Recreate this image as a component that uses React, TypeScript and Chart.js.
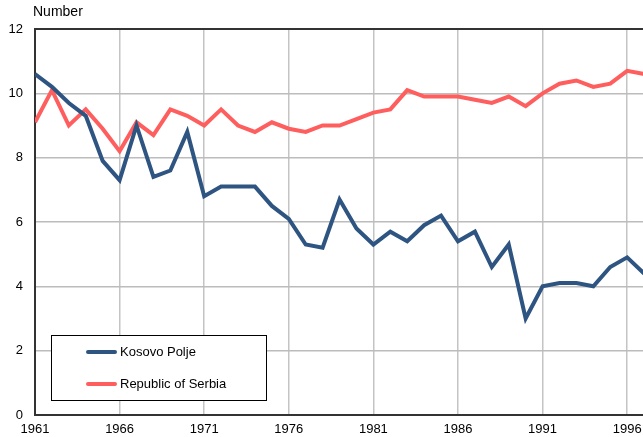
import React, { useEffect, useRef } from "react";
import { Chart, registerables } from "chart.js";

Chart.register(...registerables);

const years = [
  1961, 1962, 1963, 1964, 1965, 1966, 1967, 1968, 1969, 1970,
  1971, 1972, 1973, 1974, 1975, 1976, 1977, 1978, 1979, 1980,
  1981, 1982, 1983, 1984, 1985, 1986, 1987, 1988, 1989, 1990,
  1991, 1992, 1993, 1994, 1995, 1996, 1997,
];
const kosovoPolje = [
  10.6, 10.2, 9.7, 9.3, 7.9, 7.3, 9.0, 7.4, 7.6, 8.8,
  6.8, 7.1, 7.1, 7.1, 6.5, 6.1, 5.3, 5.2, 6.7, 5.8,
  5.3, 5.7, 5.4, 5.9, 6.2, 5.4, 5.7, 4.6, 5.3, 3.0,
  4.0, 4.1, 4.1, 4.0, 4.6, 4.9, 4.4,
];
const serbia = [
  9.1, 10.1, 9.0, 9.5, 8.9, 8.2, 9.1, 8.7, 9.5, 9.3,
  9.0, 9.5, 9.0, 8.8, 9.1, 8.9, 8.8, 9.0, 9.0, 9.2,
  9.4, 9.5, 10.1, 9.9, 9.9, 9.9, 9.8, 9.7, 9.9, 9.6,
  10.0, 10.3, 10.4, 10.2, 10.3, 10.7, 10.6,
];
const xTickYears = [1961, 1966, 1971, 1976, 1981, 1986, 1991, 1996];
const yTicks = [0, 2, 4, 6, 8, 10, 12];
const seriesNames = ["Kosovo Polje", "Republic of Serbia"];
const unitLabel = "Number";

const BLUE = "#2e5482";
const RED = "#ff5e5e";
const FONT = "'Liberation Sans', Arial, sans-serif";

export default function App() {
  const ref = useRef<HTMLCanvasElement | null>(null);

  useEffect(() => {
    const canvas = ref.current;
    if (!canvas) return;

    const overlay = {
      id: "overlay",
      afterDraw(chart: any) {
        const ctx = chart.ctx;
        const a = chart.chartArea;
        ctx.save();
        // top frame line
        ctx.strokeStyle = "#333";
        ctx.lineWidth = 2;
        ctx.beginPath();
        ctx.moveTo(a.left, a.top);
        ctx.lineTo(a.right, a.top);
        ctx.stroke();
        // unit label
        ctx.fillStyle = "#000";
        ctx.font = `14px ${FONT}`;
        ctx.textBaseline = "top";
        ctx.textAlign = "left";
        ctx.fillText(unitLabel, 33, 5);
        // legend box
        const bx = a.left + 16.5;
        const by = 335.5;
        const bw = 215;
        const bh = 65;
        ctx.fillStyle = "#fff";
        ctx.fillRect(bx, by, bw, bh);
        ctx.strokeStyle = "#000";
        ctx.lineWidth = 1;
        ctx.strokeRect(bx, by, bw, bh);
        const colors = [BLUE, RED];
        const rows = [352, 384];
        ctx.font = `13px ${FONT}`;
        ctx.textBaseline = "middle";
        seriesNames.forEach((name, i) => {
          ctx.strokeStyle = colors[i];
          ctx.lineWidth = 4;
          ctx.lineCap = "round";
          ctx.beginPath();
          ctx.moveTo(a.left + 53, rows[i]);
          ctx.lineTo(a.left + 80, rows[i]);
          ctx.stroke();
          ctx.fillStyle = "#000";
          ctx.fillText(name, a.left + 85, rows[i] + 0.5);
        });
        ctx.restore();
      },
    };

    const chart = new Chart(canvas, {
      type: "line",
      data: {
        datasets: [
          {
            label: seriesNames[0],
            data: years.map((yr, i) => ({ x: yr, y: kosovoPolje[i] })),
            borderColor: BLUE,
            borderWidth: 4,
            pointRadius: 0,
            tension: 0,
          },
          {
            label: seriesNames[1],
            data: years.map((yr, i) => ({ x: yr, y: serbia[i] })),
            borderColor: RED,
            borderWidth: 4,
            pointRadius: 0,
            tension: 0,
          },
        ],
      },
      options: {
        animation: false,
        responsive: false,
        layout: { padding: { top: 29, left: 0, right: 0, bottom: 0 } },
        plugins: {
          legend: { display: false },
          tooltip: { enabled: false },
          title: { display: false },
        },
        scales: {
          x: {
            type: "linear",
            min: 1961,
            max: 1998,
            afterBuildTicks: (scale: any) => {
              scale.ticks = xTickYears.map((v) => ({ value: v }));
            },
            afterFit: (scale: any) => {
              scale.height = 22;
            },
            ticks: {
              autoSkip: false,
              maxRotation: 0,
              padding: 7,
              color: "#000",
              font: { family: FONT, size: 13 },
              callback: (v: any) => String(v),
            },
            grid: { color: "#c4c4c4", lineWidth: 1.5, drawTicks: false },
            border: { color: "#333", width: 2 },
          },
          y: {
            min: 0,
            max: 12,
            afterBuildTicks: (scale: any) => {
              scale.ticks = yTicks.map((v) => ({ value: v }));
            },
            afterFit: (scale: any) => {
              scale.width = 35;
            },
            ticks: {
              padding: 12,
              color: "#000",
              font: { family: FONT, size: 13 },
            },
            grid: { color: "#bcbcbc", lineWidth: 1.5, drawTicks: false },
            border: { color: "#333", width: 2 },
          },
        },
      },
      plugins: [overlay],
    } as any);

    return () => chart.destroy();
  }, []);

  return (
    <div
      style={{
        position: "fixed",
        left: 0,
        top: 0,
        width: 643,
        height: 437,
        overflow: "hidden",
        background: "#fff",
      }}
    >
      <canvas ref={ref} width={661} height={437} style={{ display: "block" }} />
    </div>
  );
}
